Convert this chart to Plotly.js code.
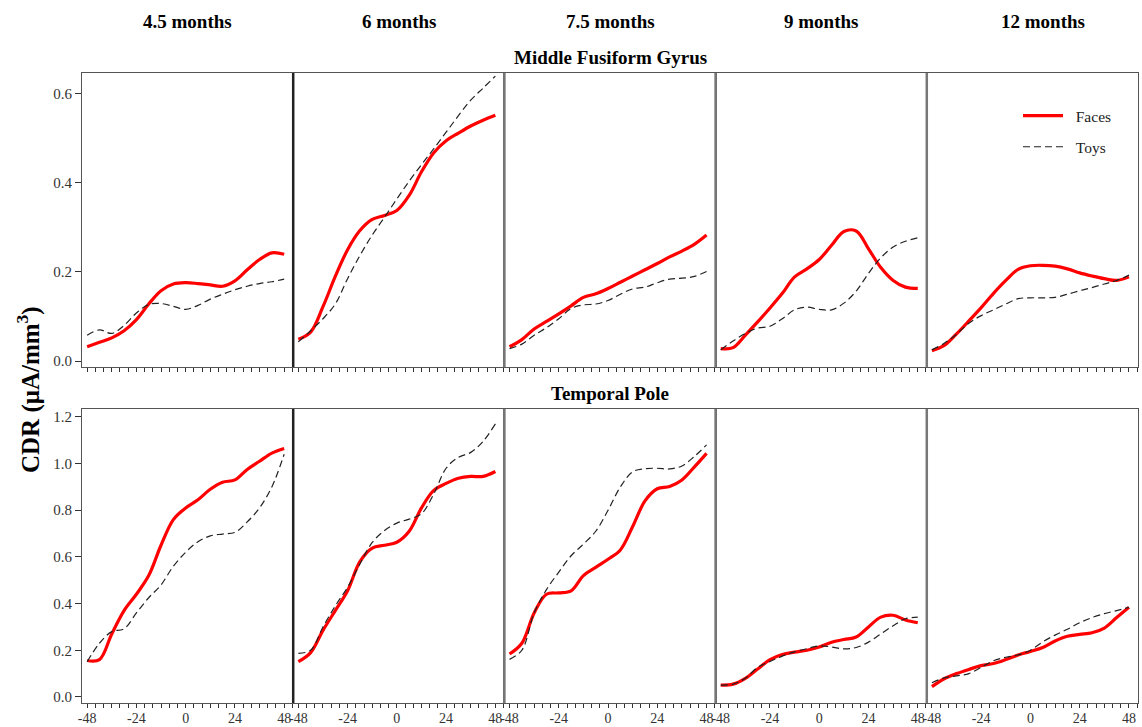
<!DOCTYPE html>
<html>
<head>
<meta charset="utf-8">
<script src="https://cdn.plot.ly/plotly-3.0.1.min.js"></script>
<style>html,body{margin:0;padding:0;background:#fff;}#chart{width:1142px;height:727px;}</style>
</head>
<body>
<div id="chart"></div>
<script>
// ---- data ----
const ages = ['4.5 months', '6 months', '7.5 months', '9 months', '12 months'];
const regions = ['Middle Fusiform Gyrus', 'Temporal Pole'];
const seriesNames = ['Faces', 'Toys'];
const timeMs = [-48, -42, -36, -30, -24, -18, -12, -6, 0, 6, 12, 18, 24, 30, 36, 42, 48];
const xTickVals = [-48, -24, 0, 24, 48];
const xTickText = ['-48', '-24', '0', '24', '48'];
const yTickTop = [0, 0.2, 0.4, 0.6];
const yTickBottom = [0, 0.2, 0.4, 0.6, 0.8, 1.0, 1.2];

// Middle Fusiform Gyrus
const mfgFaces45 = [0.032,0.042,0.052,0.068,0.093,0.128,0.158,0.173,0.176,0.174,0.171,0.168,0.180,0.205,0.228,0.243,0.240];
const mfgToys45  = [0.058,0.070,0.062,0.080,0.108,0.127,0.129,0.123,0.116,0.125,0.139,0.150,0.160,0.168,0.174,0.178,0.184];
const mfgFaces6  = [0.049,0.065,0.122,0.190,0.250,0.293,0.318,0.327,0.338,0.372,0.425,0.468,0.495,0.512,0.528,0.541,0.552];
const mfgToys6   = [0.043,0.068,0.095,0.128,0.185,0.237,0.283,0.323,0.364,0.404,0.441,0.477,0.514,0.551,0.586,0.613,0.640];
const mfgFaces75 = [0.032,0.048,0.072,0.089,0.106,0.124,0.143,0.151,0.163,0.177,0.191,0.205,0.219,0.234,0.247,0.262,0.283];
const mfgToys75  = [0.028,0.038,0.058,0.075,0.095,0.118,0.126,0.128,0.136,0.150,0.162,0.166,0.176,0.184,0.186,0.190,0.201];
const mfgFaces9  = [0.028,0.030,0.058,0.088,0.119,0.152,0.189,0.207,0.228,0.260,0.291,0.292,0.252,0.210,0.181,0.166,0.163];
const mfgToys9   = [0.025,0.045,0.062,0.074,0.078,0.095,0.115,0.121,0.116,0.115,0.130,0.157,0.197,0.232,0.256,0.269,0.277];
const mfgFaces12 = [0.023,0.035,0.061,0.090,0.120,0.152,0.181,0.206,0.214,0.215,0.213,0.207,0.198,0.191,0.185,0.181,0.189];
const mfgToys12  = [0.025,0.040,0.060,0.085,0.102,0.115,0.128,0.140,0.142,0.142,0.143,0.150,0.158,0.165,0.173,0.181,0.193];

// Temporal Pole
const tpFaces45 = [0.156,0.160,0.270,0.370,0.440,0.520,0.650,0.760,0.810,0.845,0.890,0.920,0.930,0.975,1.010,1.045,1.065];
const tpToys45  = [0.151,0.230,0.280,0.292,0.360,0.425,0.480,0.560,0.620,0.665,0.690,0.698,0.705,0.750,0.810,0.900,1.040];
const tpFaces6  = [0.151,0.190,0.285,0.370,0.455,0.580,0.638,0.650,0.663,0.710,0.810,0.885,0.915,0.937,0.945,0.945,0.966];
const tpToys6   = [0.187,0.200,0.300,0.390,0.470,0.570,0.662,0.713,0.745,0.762,0.785,0.870,0.980,1.027,1.048,1.095,1.170];
const tpFaces75 = [0.184,0.230,0.360,0.440,0.446,0.455,0.520,0.555,0.590,0.630,0.730,0.840,0.892,0.902,0.930,0.985,1.044];
const tpToys75  = [0.161,0.200,0.360,0.460,0.535,0.605,0.655,0.710,0.800,0.900,0.965,0.978,0.980,0.977,0.990,1.030,1.080];
const tpFaces9  = [0.051,0.055,0.080,0.120,0.160,0.182,0.192,0.200,0.214,0.234,0.246,0.257,0.300,0.342,0.350,0.330,0.318];
const tpToys9   = [0.051,0.055,0.080,0.127,0.152,0.175,0.193,0.207,0.219,0.214,0.206,0.212,0.235,0.270,0.305,0.335,0.342];
const tpFaces12 = [0.044,0.078,0.100,0.118,0.134,0.143,0.160,0.180,0.195,0.212,0.240,0.260,0.268,0.275,0.295,0.340,0.384];
const tpToys12  = [0.061,0.082,0.090,0.100,0.127,0.155,0.170,0.180,0.200,0.236,0.265,0.290,0.318,0.340,0.357,0.370,0.384];

const facesRows = [
  [mfgFaces45, mfgFaces6, mfgFaces75, mfgFaces9, mfgFaces12],
  [tpFaces45, tpFaces6, tpFaces75, tpFaces9, tpFaces12]
];
const toysRows = [
  [mfgToys45, mfgToys6, mfgToys75, mfgToys9, mfgToys12],
  [tpToys45, tpToys6, tpToys75, tpToys9, tpToys12]
];

// ---- layout ----
const SERIF = 'Liberation Serif, Times New Roman, serif';
const W = 1142, H = 727;
const margin = {l: 82, r: 4, t: 73, b: 24};
const plotH = H - margin.t - margin.b;
const plotW = W - margin.l - margin.r;
const rowDomains = [[0.5333, 1], [0, 0.4667]];
const yRanges = [[-0.0135, 0.647], [-0.026, 1.234]];
const xRange = [-50.5, 52.4];

const traces = [];
const layout = {
  width: W, height: H, margin: margin,
  paper_bgcolor: '#fff', plot_bgcolor: '#fff',
  font: {family: SERIF, color: '#333', size: 15},
  showlegend: true,
  legend: {
    x: (1018 - margin.l) / plotW, y: (H - margin.b - 99) / plotH, xanchor: 'left', yanchor: 'top',
    bgcolor: 'rgba(0,0,0,0)', borderwidth: 0,
    font: {family: SERIF, size: 15.5, color: '#222'},
    itemwidth: 40, traceorder: 'grouped', tracegroupgap: 8
  },
  annotations: [], shapes: []
};

for (let r = 0; r < 2; r++) {
  for (let c = 0; c < 5; c++) {
    const i = r * 5 + c + 1;
    const xa = 'x' + (i === 1 ? '' : i), ya = 'y' + (i === 1 ? '' : i);
    const first = (r === 0 && c === 0);
    traces.push({
      x: timeMs, y: facesRows[r][c], xaxis: xa, yaxis: ya, type: 'scatter', mode: 'lines',
      name: '\u00a0\u00a0' + seriesNames[0], legendgroup: 'faces', showlegend: first,
      line: {color: '#ff0000', width: 3.2, shape: 'spline', smoothing: 1}
    });
    traces.push({
      x: timeMs, y: toysRows[r][c], xaxis: xa, yaxis: ya, type: 'scatter', mode: 'lines',
      name: '\u00a0\u00a0' + seriesNames[1], legendgroup: 'toys', showlegend: first,
      line: {color: '#222', width: 1.2, dash: '7px,4px', shape: 'spline', smoothing: 1}
    });
    const xKey = 'xaxis' + (i === 1 ? '' : i), yKey = 'yaxis' + (i === 1 ? '' : i);
    layout[xKey] = {
      domain: [c / 5, (c + 1) / 5], anchor: ya, range: xRange,
      showgrid: false, zeroline: false, showline: true, mirror: true,
      linecolor: '#555', linewidth: 1,
      tickmode: 'array', tickvals: xTickVals, ticktext: xTickText,
      ticks: 'outside', ticklen: 4, tickwidth: 1, tickcolor: '#333',
      ticklabelstandoff: -2,
      minor: {tickmode: 'linear', tick0: -48, dtick: 4, ticks: 'outside', ticklen: 4, tickwidth: 1, tickcolor: '#333', showgrid: false},
      showticklabels: r === 1,
      tickfont: {family: SERIF, size: 14, color: '#333'}
    };
    layout[yKey] = {
      domain: rowDomains[r], anchor: xa, range: yRanges[r],
      showgrid: false, zeroline: false, showline: true, mirror: true,
      linecolor: '#555', linewidth: 1,
      tickmode: 'array', tickvals: r === 0 ? yTickTop : yTickBottom, tickformat: '.1f',
      ticks: c === 0 ? 'outside' : '', ticklen: 6, tickwidth: 1, tickcolor: '#333',
      showticklabels: c === 0,
      tickfont: {family: SERIF, size: 15, color: '#333'}
    };
  }
  // thick dividers between columns
  for (let k = 1; k < 5; k++) {
    layout.shapes.push({
      type: 'line', xref: 'paper', yref: 'paper', x0: k / 5, x1: k / 5,
      y0: rowDomains[r][0], y1: rowDomains[r][1],
      line: {color: k === 1 ? '#222' : '#777', width: 2.5}
    });
  }
}

// column headers
const headerX = [0.5 / 5, 1.5 / 5, 2.5 / 5, 3.5 / 5, (1043 - margin.l) / plotW];
ages.forEach((a, c) => {
  layout.annotations.push({
    text: '<b>' + a + '</b>', xref: 'paper', yref: 'paper',
    x: headerX[c], y: (H - margin.b - 21) / plotH, xanchor: 'center', yanchor: 'middle',
    showarrow: false, font: {family: SERIF, size: 19, color: '#000'}
  });
});
// row titles
const rowTitleY = [(H - margin.b - 57) / plotH, (H - margin.b - 393) / plotH];
regions.forEach((t, r) => {
  layout.annotations.push({
    text: '<b>' + t + '</b>', xref: 'paper', yref: 'paper',
    x: 0.5, y: rowTitleY[r], xanchor: 'center', yanchor: 'middle',
    showarrow: false, font: {family: SERIF, size: 19, color: '#000'}
  });
});
// y-axis title
layout.annotations.push({
  text: '<b>CDR (μA/mm<sup>3</sup>)</b>', xref: 'paper', yref: 'paper',
  x: (28 - margin.l) / plotW, y: (H - margin.b - 390) / plotH,
  xanchor: 'center', yanchor: 'middle', textangle: -90,
  showarrow: false, font: {family: SERIF, size: 25, color: '#000'}
});

Plotly.newPlot('chart', traces, layout, {displayModeBar: false, staticPlot: true});
</script>
</body>
</html>
